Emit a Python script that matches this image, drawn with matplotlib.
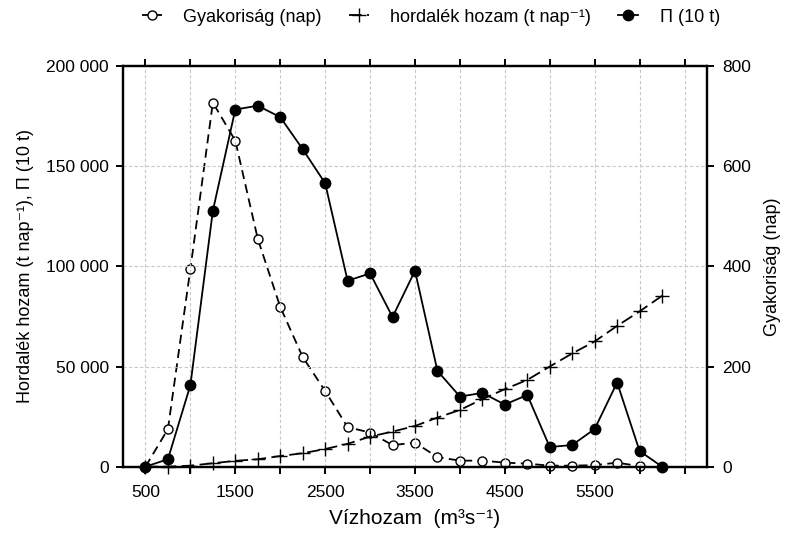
import matplotlib
matplotlib.use("Agg")
import matplotlib.pyplot as plt
from matplotlib.ticker import FixedLocator, FixedFormatter

plt.rcParams['font.family'] = ['Liberation Sans', 'DejaVu Sans']

# discharge classes (m3/s)
vizhozam = [500, 750, 1000, 1250, 1500, 1750, 2000, 2250, 2500, 2750, 3000, 3250,
            3500, 3750, 4000, 4250, 4500, 4750, 5000, 5250, 5500, 5750, 6000, 6250]

# frequency (days) - right axis
gyakorisag_x = vizhozam[:-1]
gyakorisag = [0, 75, 395, 727, 651, 455, 319, 219, 151, 79, 68, 43,
              48, 19, 12, 12, 8, 6, 2, 2, 3, 8, 1]

# sediment yield (t/day) - left axis
hordalek = [0, 0, 500, 1700, 2900, 3700, 5300, 6700, 8800, 11400, 15000, 17500,
            20300, 24500, 28300, 33700, 38700, 43300, 50000, 56500, 62500, 70300, 77500, 85300]

# Pi (10 t) - left axis
pi_10t = [0, 3700, 40700, 127700, 178300, 180200, 174500, 158500, 141500, 92800, 96500, 74700,
          97800, 47800, 35000, 36800, 31000, 35800, 9800, 10800, 18800, 42000, 7800, 0]

x_ticks = [500, 1000, 1500, 2000, 2500, 3000, 3500, 4000, 4500, 5000, 5500, 6000, 6500]
x_ticklabels = ['500', '', '1500', '', '2500', '', '3500', '', '4500', '', '5500', '', '']
left_ticks = [0, 50000, 100000, 150000, 200000]
left_ticklabels = ['0', '50 000', '100 000', '150 000', '200 000']
right_ticks = [0, 200, 400, 600, 800]

fig = plt.figure(figsize=(7.85, 5.37), dpi=100)
ax = fig.add_axes([0.1567, 0.131, 0.7439, 0.746])
ax2 = ax.twinx()
ax.set_zorder(ax2.get_zorder() + 1)
ax.patch.set_visible(False)

l1, = ax2.plot(gyakorisag_x, gyakorisag, color='black', lw=1.3, ls=(0, (5, 3)),
               marker='o', ms=6.5, mfc='white', mec='black', mew=1.0, clip_on=False,
               label='Gyakoriság (nap)')
l2, = ax.plot(vizhozam, hordalek, color='black', lw=1.3, ls=(0, (7, 3)),
              marker='+', ms=10, mew=1.0, clip_on=False,
              label='hordalék hozam (t nap⁻¹)')
l3, = ax.plot(vizhozam, pi_10t, color='black', lw=1.3, ls='-',
              marker='o', ms=7.5, mfc='black', mec='black', clip_on=False,
              label='Π (10 t)')

ax.set_xlim(250, 6750)
ax.set_ylim(0, 200000)
ax2.set_ylim(0, 800)

ax.xaxis.set_major_locator(FixedLocator(x_ticks))
ax.xaxis.set_major_formatter(FixedFormatter(x_ticklabels))
ax.yaxis.set_major_locator(FixedLocator(left_ticks))
ax.yaxis.set_major_formatter(FixedFormatter(left_ticklabels))
ax2.yaxis.set_major_locator(FixedLocator(right_ticks))

ax.grid(True, color='#c8c8c8', ls=(0, (3, 2)), lw=0.8)
ax.tick_params(axis='both', direction='out', length=5, width=1.4, labelsize=12.5, top=True)
ax.tick_params(axis='x', pad=8)
ax.tick_params(axis='y', pad=5)
ax2.tick_params(axis='y', direction='out', length=5, width=1.4, labelsize=12.5, pad=6)
for a in (ax, ax2):
    for s in a.spines.values():
        s.set_linewidth(1.6)

ax.set_xlabel('Vízhozam  (m³s⁻¹)', fontsize=15, labelpad=7)
ax.set_ylabel('Hordalék hozam (t nap⁻¹), Π (10 t)', fontsize=13, labelpad=9)
ax2.set_ylabel('Gyakoriság (nap)', fontsize=13, labelpad=9)

fig.legend(handles=[l1, l2, l3], loc='center', bbox_to_anchor=(431 / 785, 1 - 17 / 537),
           ncol=3, frameon=False, fontsize=13, numpoints=1, handlelength=1.1,
           columnspacing=1.5, handletextpad=1.2)

fig.savefig('out.png', dpi=100)
